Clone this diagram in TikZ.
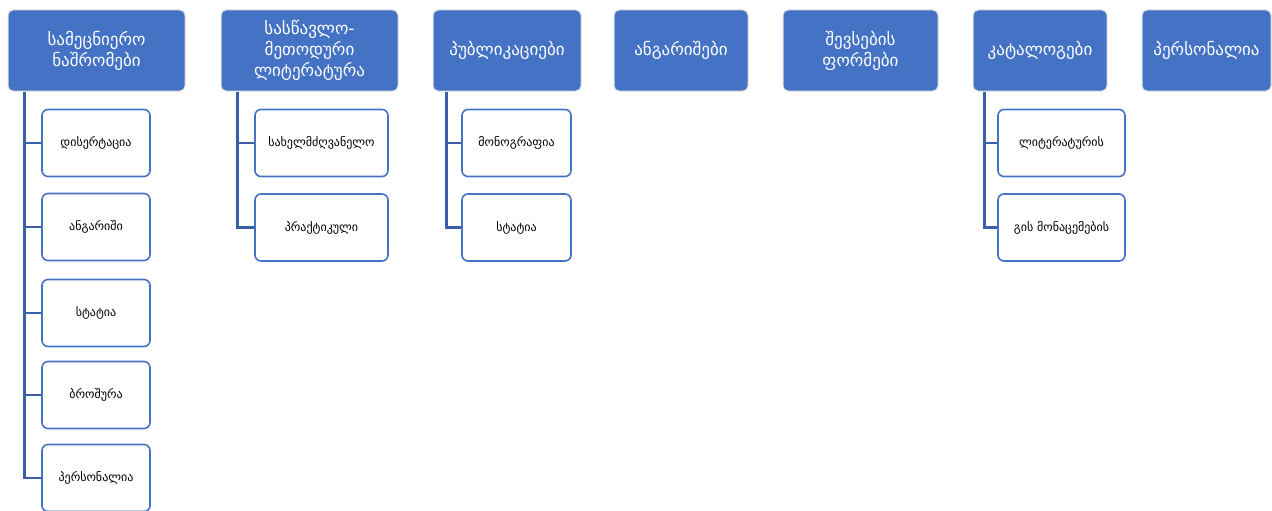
\documentclass[tikz,border=0pt]{standalone}
\usepackage{fontspec}
\newfontfamily\geo{DejaVu Sans}
\definecolor{topblue}{HTML}{4472C4}
\definecolor{linkblue}{HTML}{3A5FA8}
\begin{document}
\begin{tikzpicture}[x=1pt,y=-1pt,
  topbox/.style={rectangle, rounded corners=5pt, fill=topblue, draw=black!12, line width=1pt,
    text=white, align=center, inner sep=2pt, font=\geo\fontsize{17}{21}\selectfont},
  subbox/.style={rectangle, rounded corners=6pt, fill=white, draw=topblue, line width=1.6pt,
    text=black, align=center, inner sep=2pt, minimum height=67pt, font=\geo\fontsize{12}{14}\selectfont},
  conn/.style={draw=linkblue, line width=2.6pt}]
\useasboundingbox (0,0) rectangle (1272,511);
% top row
\node[topbox, minimum width=177pt, minimum height=81pt] (t1) at (96.5,50.5) {სამეცნიერო\\ნაშრომები};
\node[topbox, minimum width=177pt, minimum height=81pt] (t2) at (309.5,50.5) {სასწავლო-\\მეთოდური\\ლიტერატურა};
\node[topbox, minimum width=148pt, minimum height=81pt] (t3) at (507,50.5) {პუბლიკაციები};
\node[topbox, minimum width=134pt, minimum height=81pt] (t4) at (681,50.5) {ანგარიშები};
\node[topbox, minimum width=155pt, minimum height=81pt] (t5) at (860.5,50.5) {შევსების\\ფორმები};
\node[topbox, minimum width=134pt, minimum height=81pt] (t6) at (1040,50.5) {კატალოგები};
\node[topbox, minimum width=129pt, minimum height=81pt] (t7) at (1206.5,50.5) {პერსონალია};
% children column 1
\node[subbox, minimum width=108pt] (c11) at (96,143) {დისერტაცია};
\node[subbox, minimum width=108pt] (c12) at (96,227) {ანგარიში};
\node[subbox, minimum width=108pt] (c13) at (96,313) {სტატია};
\node[subbox, minimum width=108pt] (c14) at (96,395) {ბროშურა};
\node[subbox, minimum width=108pt] (c15) at (96,478) {პერსონალია};
% column 2
\node[subbox, minimum width=133pt] (c21) at (321.5,143) {სახელმძღვანელო};
\node[subbox, minimum width=133pt] (c22) at (321.5,227.5) {პრაქტიკული};
% column 3
\node[subbox, minimum width=109pt] (c31) at (516.5,143) {მონოგრაფია};
\node[subbox, minimum width=109pt] (c32) at (516.5,227.5) {სტატია};
% column 6
\node[subbox, minimum width=127pt] (c61) at (1061.5,143) {ლიტერატურის};
\node[subbox, minimum width=127pt] (c62) at (1061.5,227.5) {გის მონაცემების};
% trunk coordinates
\coordinate (r1) at ([xshift=17pt]t1.south west);
\coordinate (r2) at ([xshift=17pt]t2.south west);
\coordinate (r3) at ([xshift=14pt]t3.south west);
\coordinate (r6) at ([xshift=12pt]t6.south west);
% connectors
\foreach \c in {c11,c12,c13,c14,c15} \draw[conn] (r1) |- (\c.west);
\foreach \c in {c21,c22} \draw[conn] (r2) |- (\c.west);
\foreach \c in {c31,c32} \draw[conn] (r3) |- (\c.west);
\foreach \c in {c61,c62} \draw[conn] (r6) |- (\c.west);
\end{tikzpicture}
\end{document}
